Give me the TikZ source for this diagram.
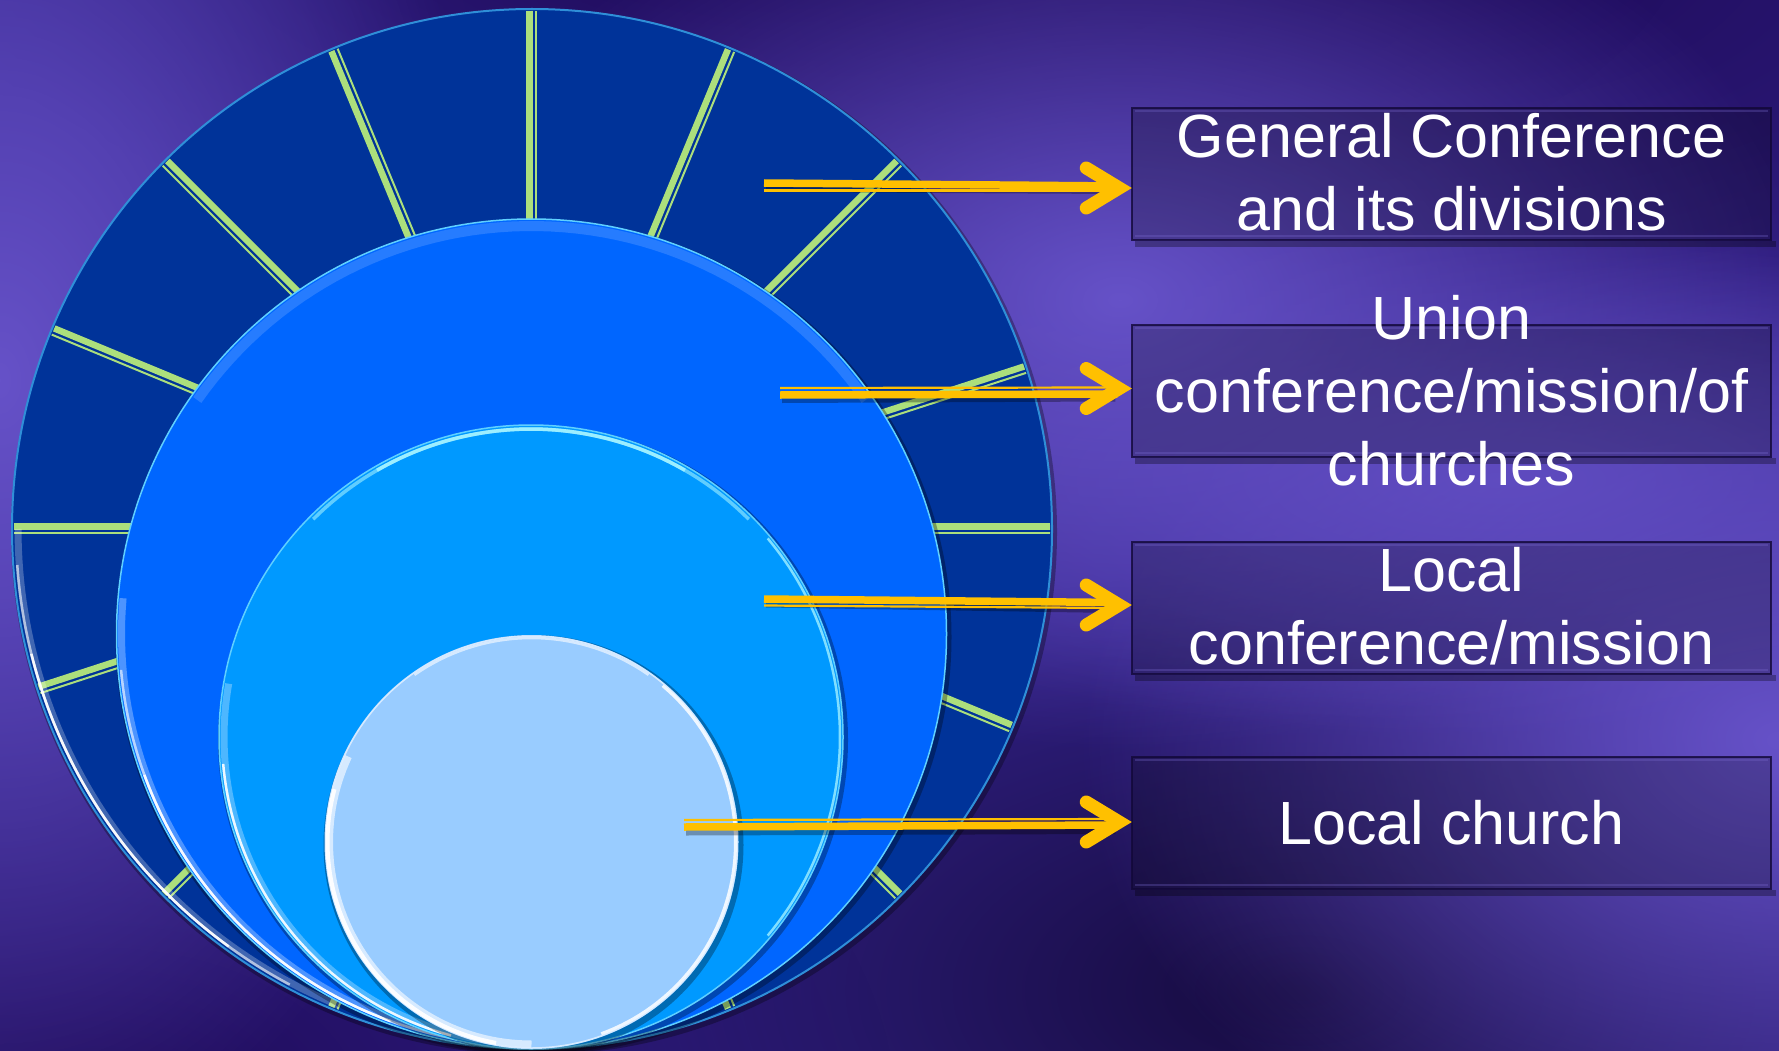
\documentclass[tikz,border=0pt]{standalone}
\usepackage{fontspec}
\setmainfont{Liberation Sans}
\usetikzlibrary{calc,fadings}
\definecolor{bgbase}{HTML}{33228A}
\definecolor{bgdark}{HTML}{1E0A58}
\definecolor{bgdarker}{HTML}{160B3E}
\definecolor{bglight}{HTML}{6652C8}
\definecolor{ringA}{HTML}{003399}
\definecolor{ringB}{HTML}{0066FF}
\definecolor{ringC}{HTML}{0099FF}
\definecolor{ringD}{HTML}{99CCFF}
\definecolor{rimblue}{HTML}{2F8FD8}
\definecolor{rimcyan}{HTML}{5FD0FF}
\definecolor{rimbright}{HTML}{A0F0FF}
\definecolor{spokegreen}{HTML}{ACDF7C}
\definecolor{gold}{HTML}{FFC000}
\definecolor{boxedge}{HTML}{120838}
\definecolor{boxhl}{HTML}{7A6AD0}
\tikzfading[name=glowfade, inner color=transparent!0, outer color=transparent!100]
\tikzset{
  spokeA/.style={draw=spokegreen, line width=6.5pt},
  spokeB/.style={draw=spokegreen, line width=2pt},
  goldthick/.style={draw=gold, line width=7.5pt},
  goldthin/.style={draw=gold, line width=2.2pt},
  goldhead/.style={draw=gold, line width=13pt, line cap=round, line join=miter},
  goldshadow/.style={draw=black, opacity=.3, line width=8pt},
  boxstyle/.style={minimum width=639pt, minimum height=132pt, inner sep=0pt,
     fill=black, fill opacity=0.22, draw=boxedge, draw opacity=0.8, line width=1.5pt},
  boxinner/.style={draw=boxhl, opacity=.3, line width=2pt},
  boxshadow/.style={fill=black, opacity=.3},
  labeltext/.style={text=white, align=center, inner sep=0pt,
     font=\fontsize{61}{73}\selectfont},
  rim/.style={line width=#1, line cap=butt},
}
\begin{document}
\begin{tikzpicture}[x=1pt,y=-1pt]
\useasboundingbox (0,0) rectangle (1779,1051);
% ---------- background ----------
\fill[bgbase] (0,0) rectangle (1779,1051);
\fill[bgdark, path fading=glowfade] (1400,-60) ellipse[x radius=1100, y radius=520];
\fill[bgdark, path fading=glowfade] (800,-90) ellipse[x radius=900, y radius=360];
\fill[bgdarker, path fading=glowfade] (1300,990) ellipse[x radius=800, y radius=420];
\fill[bgdark, path fading=glowfade] (100,1120) ellipse[x radius=800, y radius=520];
\fill[bglight, path fading=glowfade] (0,380) ellipse[x radius=500, y radius=800];
\fill[bglight, path fading=glowfade] (1120,300) ellipse[x radius=700, y radius=450];
\fill[bglight, path fading=glowfade] (1779,740) ellipse[x radius=700, y radius=500];
\fill[bglight, opacity=.7, path fading=glowfade] (1500,480) ellipse[x radius=800, y radius=260];

% ---------- circles ----------
\coordinate (O1) at (532,529);
\coordinate (O2) at (531.5,634);
\coordinate (O3) at (531,737);
\coordinate (O4) at (531.5,842);

\fill[black, opacity=.3] ($(O1)+(2,3)$) circle[radius=523];
\fill[ringA] (O1) circle[radius=520];
\begin{scope}
  \clip (O1) circle[radius=518];
  \foreach \a in {0,22.5,45,67.5,90,112.5,135,162,180,202.5,225,247.5,270,292.5,315,342} {
    \pgfmathsetmacro\qa{cos(\a+30)>0 ? \a+90 : \a-90}
    \draw[spokeA] ($(O1)+(\qa:-2.5)$) -- ($(O1)+(\a:540)+(\qa:-2.5)$);
    \draw[spokeB] ($(O1)+(\qa:4.2)$) -- ($(O1)+(\a:540)+(\qa:4.2)$);
  }
\end{scope}
\draw[rimblue, line width=2pt] (O1) circle[radius=520];
\draw[shift={(O1)}, white, opacity=.25, rim=7pt] plot[domain=112:180, samples=60] (\x:514);
\draw[shift={(O1)}, white, opacity=.6, rim=2.5pt] plot[domain=118:176, samples=60] (\x:516);
\draw[shift={(O1)}, white, opacity=.9, rim=2.5pt] plot[domain=126:166, samples=60] (\x:516);

\fill[black, opacity=.3] ($(O2)+(2,3)$) circle[radius=418];
\fill[ringB] (O2) circle[radius=415];
\draw[shift={(O2)}, white, opacity=.15, line width=10pt] plot[domain=215:325, samples=60] (\x:408);
\draw[rimcyan, line width=1.5pt] (O2) circle[radius=415];
\draw[shift={(O2)}, white, opacity=.3, rim=7pt] plot[domain=95:185, samples=60] (\x:410);
\draw[shift={(O2)}, white, opacity=.6, rim=2.5pt] plot[domain=100:175, samples=60] (\x:412);
\draw[shift={(O2)}, white, opacity=.9, rim=2.5pt] plot[domain=110:160, samples=60] (\x:412);

\fill[black, opacity=.3] ($(O3)+(2,3)$) circle[radius=315];
\fill[ringC] (O3) circle[radius=312];
\draw[rimcyan, line width=1.5pt] (O3) circle[radius=312];
\draw[shift={(O3)}, rimbright, opacity=.6, rim=3.5pt] plot[domain=225:315, samples=60] (\x:308);
\draw[shift={(O3)}, rimbright, opacity=.95, rim=3.5pt] plot[domain=240:300, samples=60] (\x:308);
\draw[shift={(O3)}, rimbright, opacity=.8, rim=2.5pt] plot[domain=-40:40, samples=60] (\x:309);
\draw[shift={(O3)}, white, opacity=.3, rim=7pt] plot[domain=95:190, samples=60] (\x:307);
\draw[shift={(O3)}, white, opacity=.9, rim=2.5pt] plot[domain=105:175, samples=60] (\x:309);

\fill[black, opacity=.3] ($(O4)+(2,3)$) circle[radius=210];
\fill[ringD] (O4) circle[radius=207];
\draw[white, opacity=.6, line width=1.5pt] (O4) circle[radius=206];
\draw[shift={(O4)}, white, opacity=.6, rim=7pt] plot[domain=90:205, samples=60] (\x:202);
\draw[shift={(O4)}, white, opacity=.95, rim=4pt] plot[domain=100:195, samples=60] (\x:204);
\draw[shift={(O4)}, white, opacity=.6, rim=2.5pt] plot[domain=235:305, samples=60] (\x:204);
\draw[shift={(O4)}, white, opacity=.85, rim=3pt] plot[domain=-50:70, samples=60] (\x:204);

% ---------- boxes ----------
\node[boxstyle] (b1) at (1451.5,174) {};
\node[boxstyle] (b2) at (1451.5,391) {};
\node[boxstyle] (b3) at (1451.5,608) {};
\node[boxstyle] (b4) at (1451.5,823) {};
\foreach \b in {b1,b2,b3,b4} {
  \fill[boxshadow] ($(\b.south west)+(4,0.5)$) rectangle ($(\b.south east)+(4,6)$);
  \draw[boxinner] ($(\b.north west)+(4,4)$) -- ($(\b.north east)+(-4,4)$);
  \draw[boxinner] ($(\b.south west)+(4,-5)$) -- ($(\b.south east)+(-4,-5)$);
}
\node[labeltext] (l1) at (1451.5,172.5) {General Conference\\and its divisions};
\node[labeltext] (l2) at (1451.5,391) {Union\\conference/mission/of\\churches};
\node[labeltext] (l3) at (1451.5,606.5) {Local\\conference/mission};
\node[labeltext] (l4) at (1451.5,823) {Local church};

% ---------- arrows ----------
\coordinate (s1) at (764,186.5);
\coordinate (s2) at (780,391);
\coordinate (s3) at (764,602);
\coordinate (s4) at (684,823.5);
\coordinate (t1) at ($(b1.west)+(0,14)$);
\coordinate (t2) at ($(b2.west)+(0,-2.5)$);
\coordinate (t3) at ($(b3.west)+(0,-3)$);
\coordinate (t4) at ($(b4.west)+(0,-1)$);

\draw[goldshadow] ($(s1)+(2,1.5)$) -- ($(t1)+(-16,2)$);
\draw[goldshadow] ($(s2)+(2,8)$) -- ($(t2)+(-16,9)$);
\draw[goldshadow] ($(s3)+(2,1.5)$) -- ($(t3)+(-16,4)$);
\draw[goldshadow] ($(s4)+(2,8)$) -- ($(t4)+(-16,8)$);

\draw[goldthick] ($(s1)+(0,-3.5)$) -- ($(t1)+(-14,-2)$);
\draw[goldthin]  ($(s1)+(0,4)$) -- ($(t1)+(-14,2.5)$);
\draw[goldhead]  ($(t1)+(-45,-20)$) -- ($(t1)+(-12,0)$) -- ($(t1)+(-45,20)$);

\draw[goldthin]  ($(s2)+(0,-3)$) -- ($(t2)+(-14,-1)$);
\draw[goldthick] ($(s2)+(0,4)$) -- ($(t2)+(-14,5.5)$);
\draw[goldhead]  ($(t2)+(-45,-20)$) -- ($(t2)+(-12,0)$) -- ($(t2)+(-45,20)$);

\draw[goldthick] ($(s3)+(0,-3)$) -- ($(t3)+(-14,-2.5)$);
\draw[goldthin]  ($(s3)+(0,3.5)$) -- ($(t3)+(-14,3)$);
\draw[goldhead]  ($(t3)+(-45,-20)$) -- ($(t3)+(-12,0)$) -- ($(t3)+(-45,20)$);

\draw[goldthin]  ($(s4)+(0,-3.5)$) -- ($(t4)+(-14,-3)$);
\draw[goldthick] ($(s4)+(0,3.5)$) -- ($(t4)+(-14,3)$);
\draw[goldhead]  ($(t4)+(-45,-20)$) -- ($(t4)+(-12,0)$) -- ($(t4)+(-45,20)$);
\end{tikzpicture}
\end{document}
